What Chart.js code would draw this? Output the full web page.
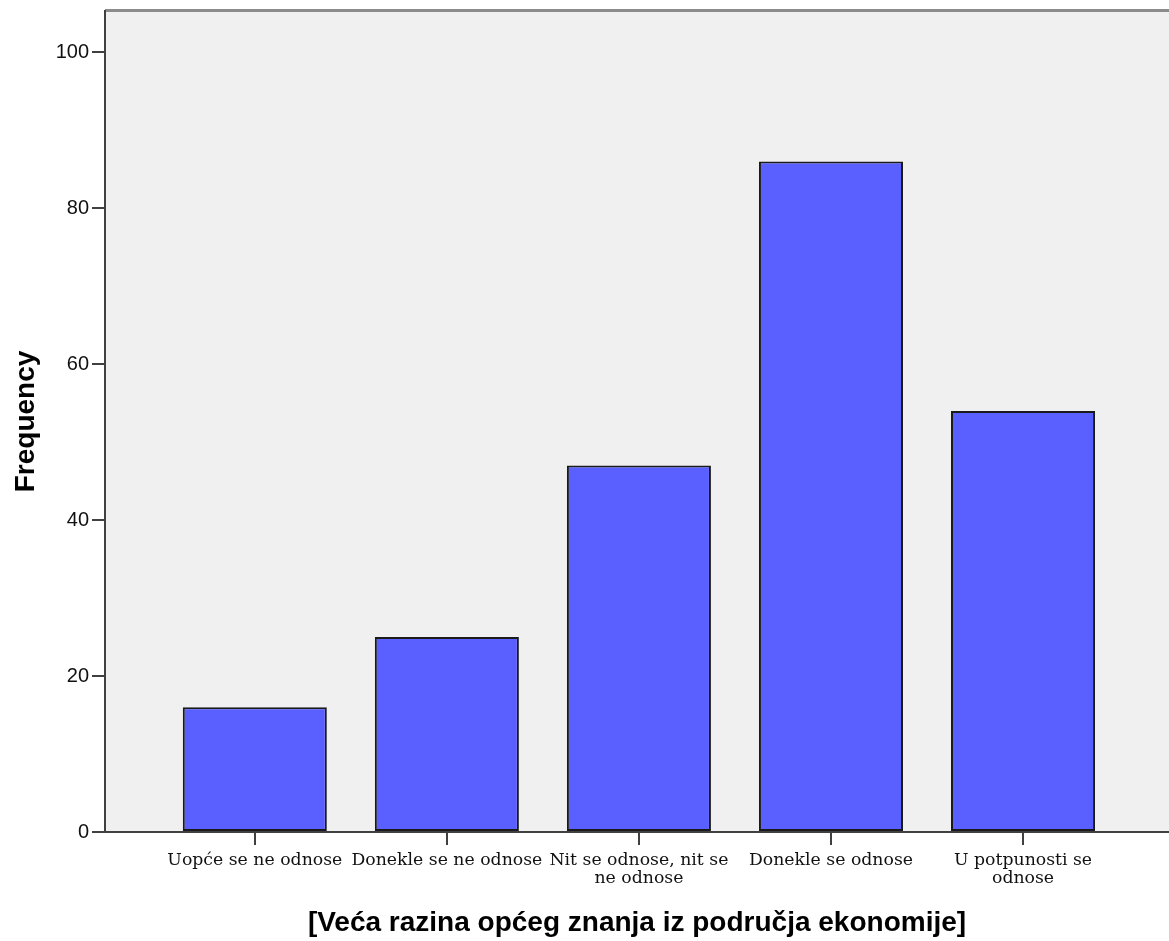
<!DOCTYPE html>
<html>
<head>
<meta charset="utf-8">
<script src="https://cdn.jsdelivr.net/npm/chart.js@4"></script>
<style>
  html, body { margin: 0; padding: 0; background: #ffffff; }
  canvas { display: block; }
</style>
</head>
<body>
<canvas id="c" width="1169" height="941"></canvas>
<script>
// ---- data ----
const categories = [
  ["Uopće se ne odnose"],
  ["Donekle se ne odnose"],
  ["Nit se odnose, nit se", "ne odnose"],
  ["Donekle se odnose"],
  ["U potpunosti se", "odnose"]
];
const frequencies = [16, 25, 47, 86, 54];
const yTicks = [0, 20, 40, 60, 80, 100];
const yTitle = "Frequency";
const xTitle = "[Veća razina općeg znanja iz područja ekonomije]";

// ---- plugin: plot background and top frame ----
const plotFrame = {
  id: 'plotFrame',
  beforeDraw(chart) {
    const { ctx, chartArea: a } = chart;
    ctx.save();
    ctx.fillStyle = '#f0f0f0';
    ctx.fillRect(a.left, a.top, a.right - a.left, a.bottom - a.top);
    ctx.strokeStyle = '#8c8c8c';
    ctx.lineWidth = 3;
    ctx.beginPath();
    ctx.moveTo(a.left, a.top - 0.5);
    ctx.lineTo(a.right, a.top - 0.5);
    ctx.stroke();
    ctx.restore();
  }
};

const axisColor = '#404040';

new Chart(document.getElementById('c'), {
  type: 'bar',
  data: {
    datasets: [{
      data: frequencies.map((v, i) => ({ x: i, y: v })),
      backgroundColor: '#5a5fff',
      borderColor: '#1a1a1a',
      borderWidth: 2,
      borderSkipped: false,
      barPercentage: 0.75,
      categoryPercentage: 1.0
    }]
  },
  options: {
    responsive: false,
    animation: false,
    layout: { padding: { top: 11, left: 0, right: 0, bottom: 0 } },
    plugins: {
      legend: { display: false },
      tooltip: { enabled: false }
    },
    scales: {
      x: {
        type: 'linear',
        offset: false,
        min: -0.78,
        max: 4.76,
        afterBuildTicks: (s) => { s.ticks = categories.map((_, i) => ({ value: i })); },
        afterFit: (s) => { s.height = 109; s.paddingLeft = 0; s.paddingRight = 0; },
        grid: {
          offset: false,
          drawOnChartArea: false,
          drawTicks: true,
          tickLength: 13,
          color: axisColor,
          lineWidth: 2
        },
        border: { display: true, color: axisColor, width: 2 },
        ticks: {
          autoSkip: false,
          maxRotation: 0,
          minRotation: 0,
          padding: 6,
          color: '#111111',
          font: { family: "'DejaVu Serif', serif", size: 17.3, lineHeight: 1.05 },
          callback: (value, index) => categories[index]
        },
        title: {
          display: true,
          text: xTitle,
          color: '#000000',
          font: { family: "'Liberation Sans', Arial, sans-serif", size: 28, weight: 'bold' },
          padding: { top: 0, bottom: 1 }
        }
      },
      y: {
        min: 0,
        max: 105.3,
        afterBuildTicks: (s) => { s.ticks = yTicks.map(v => ({ value: v })); },
        afterFit: (s) => { s.width = 105; s.paddingTop = 0; s.paddingBottom = 0; },
        grid: {
          drawOnChartArea: false,
          drawTicks: true,
          tickLength: 13,
          color: axisColor,
          lineWidth: 2
        },
        border: { display: true, color: axisColor, width: 2 },
        ticks: {
          padding: 3,
          color: '#111111',
          font: { family: "'Liberation Sans', Arial, sans-serif", size: 20 }
        },
        title: {
          display: true,
          text: yTitle,
          color: '#000000',
          font: { family: "'Liberation Sans', Arial, sans-serif", size: 28, weight: 'bold' },
          padding: { top: 9, bottom: 0 }
        }
      }
    }
  },
  plugins: [plotFrame]
});
</script>
</body>
</html>
